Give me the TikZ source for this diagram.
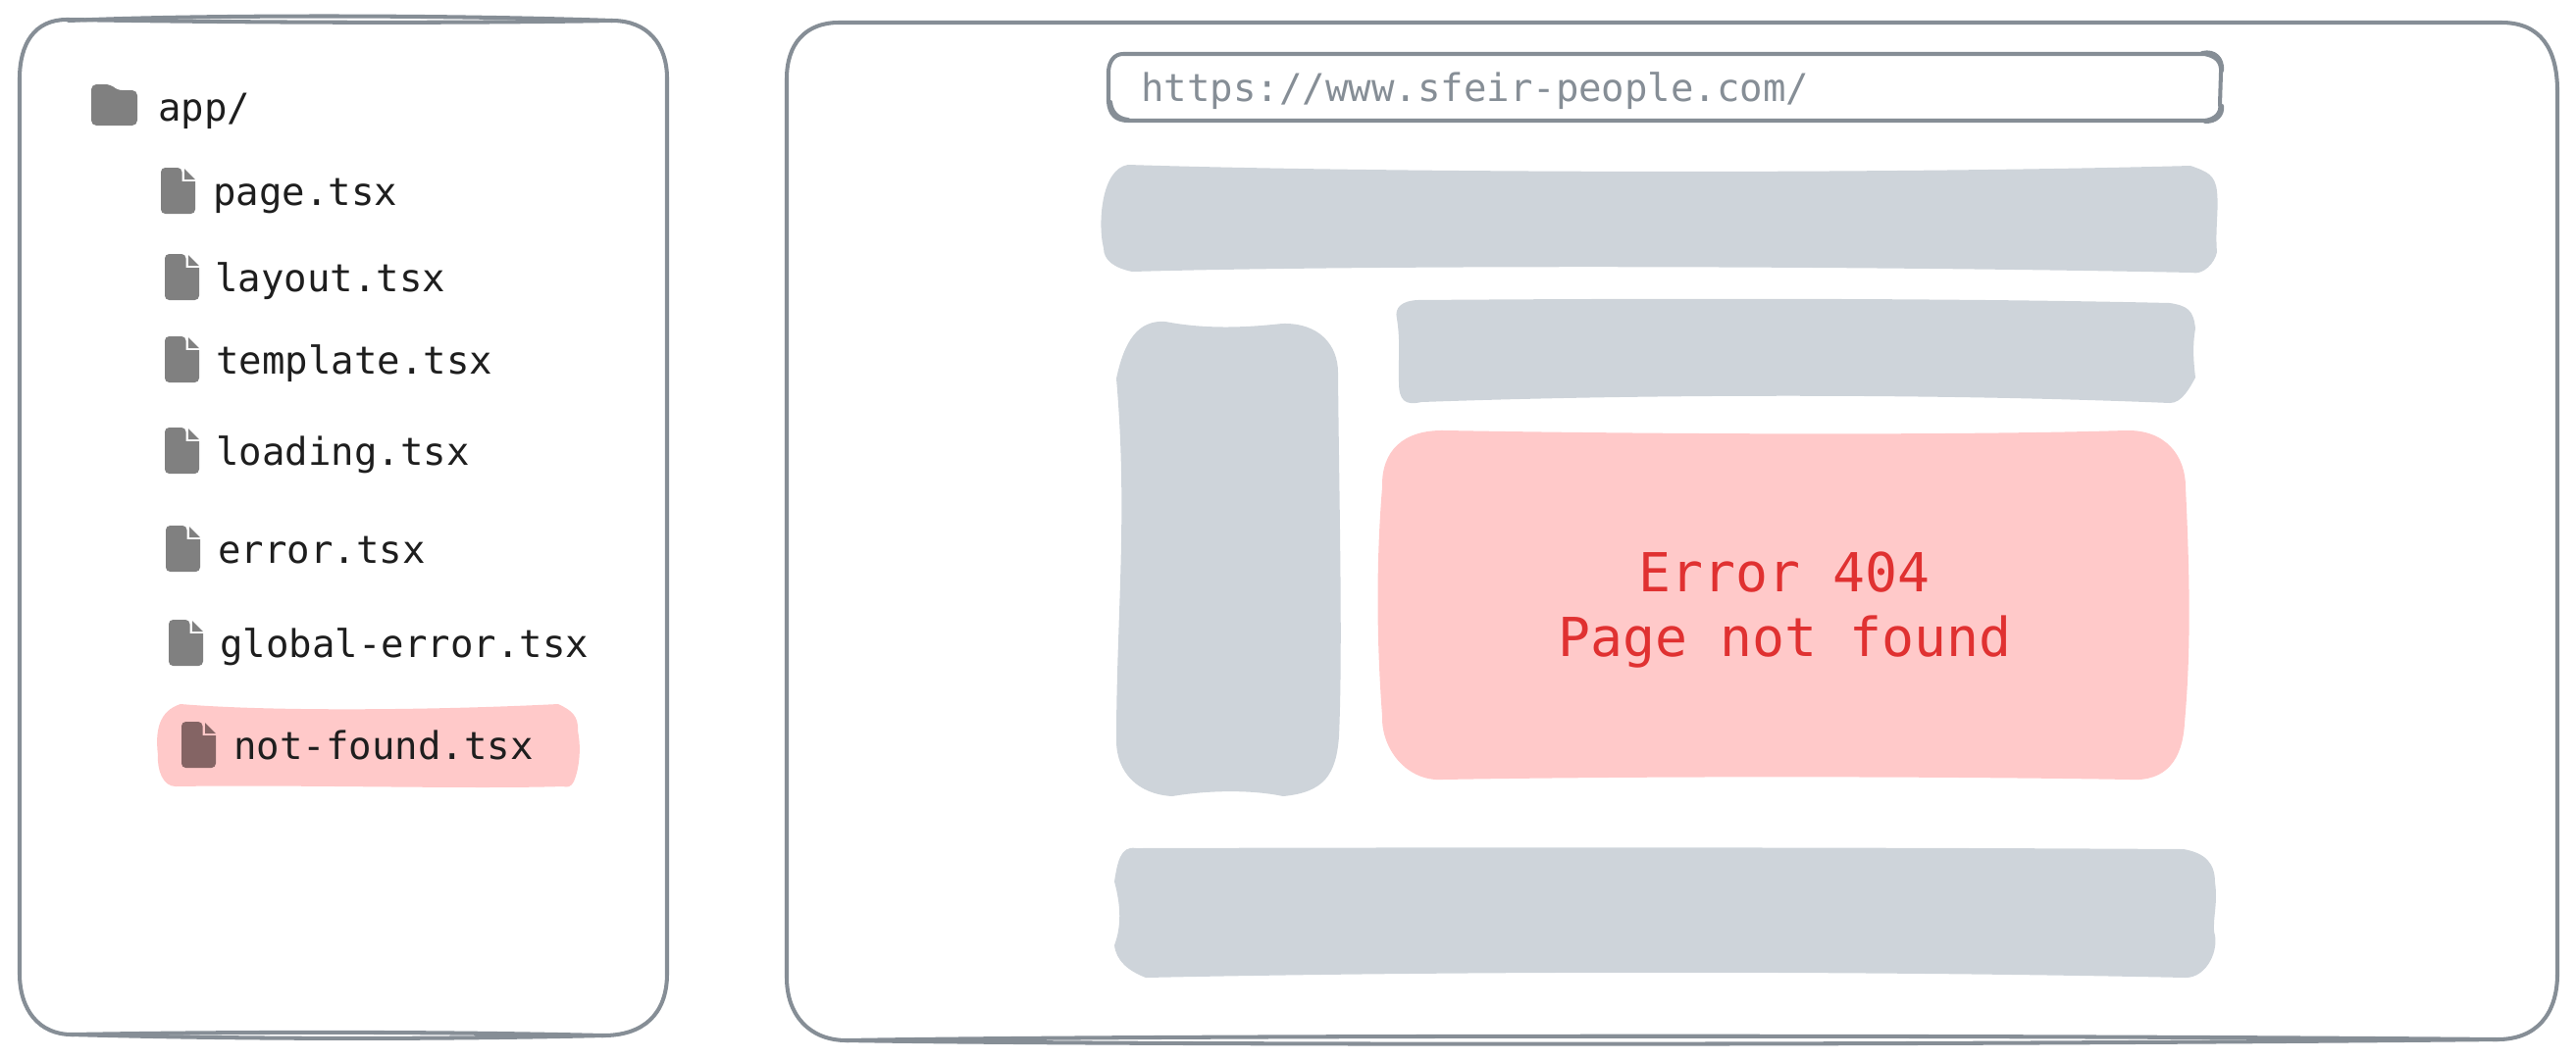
\documentclass[tikz,border=0pt]{standalone}
\usepackage{fontspec}
\usepackage{xcolor}
\setmainfont{DejaVu Sans Mono}
\definecolor{strokegrey}{HTML}{868E96}
\definecolor{blockgrey}{HTML}{CED4DA}
\definecolor{notfoundpink}{HTML}{FFC9C9}
\definecolor{errorred}{HTML}{E03131}
\definecolor{inkblack}{HTML}{1E1E1E}
\definecolor{icongrey}{HTML}{808080}
\definecolor{iconpink}{HTML}{846464}
\tikzset{
	frameline/.style={draw=strokegrey, line width=2.3pt, line cap=round, line join=round},
	greyblock/.style={fill=blockgrey},
	pinkblock/.style={fill=notfoundpink},
	filename/.style={anchor=base west, inner sep=0pt, text=inkblack, font=\fontsize{22.2}{26}\selectfont},
	urltext/.style={anchor=base west, inner sep=0pt, text=strokegrey, font=\fontsize{22.2}{26}\selectfont},
	errortext/.style={align=center, inner sep=0pt, text=errorred, font=\fontsize{31.2}{38.1}\selectfont},
	pics/fileicon/.style={code={
		\fill[#1] [rounded corners=2.5pt] (0,47) -- (0,0) -- (21.5,0) [sharp corners] -- (21.5,14) -- (35,14) [rounded corners=2.5pt] -- (35,47) -- cycle;
		\fill[#1] (24,1) -- (35,12) -- (24,12) -- cycle;
	}},
	pics/foldericon/.style={code={
		\fill[#1] [rounded corners=3pt] (0,42) -- (0,0) -- (20,0) -- (26,6) -- (47,6) -- (47,42) -- cycle;
	}},
}

\begin{document}
\begin{tikzpicture}[x=0.02cm, y=-0.02cm]

\useasboundingbox (0,0) rectangle (2626,1080);

%tree frame
\draw[frameline] (68,20) -- (70,20) .. controls (250,23) and (450,24) .. (624,21) .. controls (660,21) and (680,45) .. (680,80) -- (680,993) .. controls (680,1035) and (655,1056) .. (615,1056) .. controls (450,1060) and (250,1060) .. (73,1055) .. controls (40,1055) and (20,1030) .. (20,993) -- (20,80) .. controls (20,45) and (35,20) .. (68,20) -- cycle;
\draw[frameline] (70,21) .. controls (200,15) and (450,15) .. (624,21);
\draw[frameline] (73,1055) .. controls (250,1052) and (450,1052) .. (615,1056);

%browser frame
\draw[frameline] (855,23) -- (2550,23) .. controls (2590,23) and (2607,50) .. (2607,93) -- (2607,993) .. controls (2607,1035) and (2585,1060) .. (2546,1060) .. controls (2000,1066) and (1150,1066) .. (863,1061) .. controls (825,1061) and (802,1035) .. (802,997) -- (802,80) .. controls (802,45) and (821,23) .. (855,23) -- cycle;
\draw[frameline] (863,1061) .. controls (1150,1056) and (2000,1055) .. (2546,1060);

%url bar
\draw[frameline] (1145,55) -- (2247,55) .. controls (2258,57) and (2265,62) .. (2264,74) -- (2263,106) .. controls (2265,115) and (2258,122) .. (2247,123) -- (1150,123) .. controls (1137,123) and (1131,116) .. (1130,104) -- (1130,72) .. controls (1131,62) and (1136,55) .. (1145,55) -- cycle;
\draw[frameline] (2245,54) .. controls (2258,51) and (2266,60) .. (2265,72);
\draw[frameline] (2265,108) .. controls (2266,117) and (2260,124) .. (2248,124);
\draw[frameline] (1132,104) .. controls (1133,114) and (1139,121) .. (1150,122);
\node[urltext] (url) at (1163,103) {https://www.sfeir-people.com/};

%page blocks
\path[greyblock] (1150,168) .. controls (1400,176) and (1900,178) .. (2233,169) .. controls (2250,175) and (2258,178) .. (2260,195) .. controls (2262,215) and (2258,235) .. (2260,257) .. controls (2258,268) and (2246,281) .. (2234,278) .. controls (1900,271) and (1400,270) .. (1154,277) .. controls (1135,273) and (1125,265) .. (1125,253) .. controls (1119,230) and (1122,172) .. (1150,168) -- cycle;

\path[greyblock] (1444,306) .. controls (1700,304) and (2000,304) .. (2212,309) .. controls (2230,312) and (2236,316) .. (2238,335) .. controls (2235,352) and (2236,368) .. (2238,385) .. controls (2232,396) and (2224,411) .. (2212,411) .. controls (2000,402) and (1700,401) .. (1449,410) .. controls (1432,414) and (1426,408) .. (1426,390) .. controls (1425,370) and (1428,350) .. (1424,325) .. controls (1421,313) and (1430,307) .. (1444,306) -- cycle;

\path[greyblock] (1188,328) .. controls (1230,336) and (1270,334) .. (1307,330) .. controls (1345,329) and (1364,352) .. (1364,380) .. controls (1365,500) and (1369,660) .. (1365,751) .. controls (1362,790) and (1350,808) .. (1308,812) .. controls (1275,805) and (1230,806) .. (1195,812) .. controls (1160,810) and (1138,788) .. (1138,755) .. controls (1138,630) and (1150,525) .. (1138,386) .. controls (1146,348) and (1160,326) .. (1188,328) -- cycle;

\path[pinkblock] (1473,439) .. controls (1700,443) and (2000,444) .. (2167,439) .. controls (2208,438) and (2228,465) .. (2228,497) .. controls (2233,600) and (2233,670) .. (2227,737) .. controls (2225,775) and (2208,797) .. (2172,795) .. controls (2000,792) and (1700,791) .. (1470,795) .. controls (1435,797) and (1408,765) .. (1409,730) .. controls (1403,650) and (1403,570) .. (1409,497) .. controls (1408,460) and (1430,438) .. (1473,439) -- cycle;
\node[errortext] (errormsg) at (1819,622) {Error 404\\Page not found};

\path[greyblock] (1158,865) .. controls (1500,864) and (1900,864) .. (2226,866) .. controls (2248,870) and (2258,880) .. (2258,900) .. controls (2261,920) and (2256,935) .. (2257,950) .. controls (2263,968) and (2250,997) .. (2228,997) .. controls (1900,990) and (1500,990) .. (1168,997) .. controls (1150,990) and (1138,980) .. (1136,964) .. controls (1143,945) and (1143,925) .. (1136,899) .. controls (1139,880) and (1142,862) .. (1158,865) -- cycle;

%tree entries
\pic at (93,86) {foldericon=icongrey};
\node[filename] (app) at (161,123) {app/};

\foreach \ix/\iy/\tx/\nm/\lbl in {164/171/217/page/page.tsx, 168/259/219/layout/layout.tsx, 168/343/220/template/template.tsx, 168/436/220/loading/loading.tsx, 169/536/222/error/error.tsx, 172/632/224/gerror/global-error.tsx}{
	\pic at (\ix,\iy) {fileicon=icongrey};
	\node[filename] (\nm) at (\tx,\iy+38) {\lbl};
}

\path[pinkblock] (184,718) .. controls (280,726) and (450,724) .. (569,718) .. controls (582,724) and (590,730) .. (589,745) .. controls (593,765) and (590,785) .. (585,797) .. controls (582,803) and (578,803) .. (574,802) .. controls (480,805) and (300,800) .. (179,802) .. controls (166,802) and (160,785) .. (161,770) .. controls (158,745) and (162,725) .. (184,718) -- cycle;
\pic at (185,736) {fileicon=iconpink};
\node[filename] (notfound) at (238,774) {not-found.tsx};

\end{tikzpicture}
\end{document}
